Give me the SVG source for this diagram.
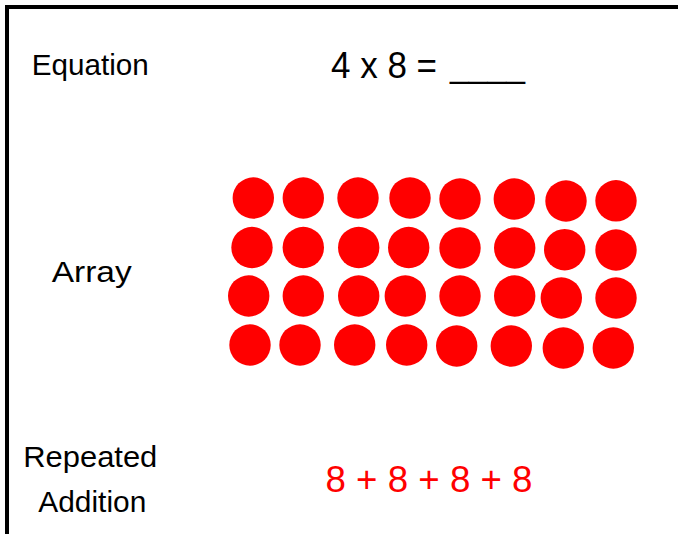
<svg xmlns="http://www.w3.org/2000/svg" width="678" height="534" viewBox="0 0 678 534">
<style>
.lbl{font-family:"Liberation Sans",Arial,sans-serif;font-size:30px;fill:#000}
.eq{font-family:"Liberation Sans",Arial,sans-serif;font-size:37px;fill:#000}
.add{font-family:"Liberation Sans",Arial,sans-serif;font-size:37px;fill:#ff0000}
.dot{fill:#ff0000}
</style>
<rect x="0" y="0" width="678" height="534" fill="#fff"/>
<g id="border">
<rect x="5" y="5" width="673" height="4" fill="#000"/>
<rect x="5" y="5" width="4" height="529" fill="#000"/>
</g>
<g id="labels">
<text class="lbl" x="31.7" y="75" textLength="117" lengthAdjust="spacingAndGlyphs">Equation</text>
<text class="lbl" x="51.7" y="281.7" textLength="80" lengthAdjust="spacingAndGlyphs">Array</text>
<text class="lbl" x="23.3" y="466.7" textLength="134" lengthAdjust="spacingAndGlyphs">Repeated</text>
<text class="lbl" x="38.3" y="511.7" textLength="108" lengthAdjust="spacingAndGlyphs">Addition</text>
</g>
<g id="equation">
<text class="eq" x="331" y="78.3" textLength="106" lengthAdjust="spacingAndGlyphs">4 x 8 =</text>
<text class="eq" x="450" y="76.5" textLength="75" lengthAdjust="spacingAndGlyphs">____</text>
</g>
<g id="array">
<circle class="dot" cx="253.3" cy="198" r="20.7"/>
<circle class="dot" cx="303.3" cy="198" r="20.7"/>
<circle class="dot" cx="358" cy="198" r="20.7"/>
<circle class="dot" cx="410" cy="198" r="20.7"/>
<circle class="dot" cx="460" cy="199" r="20.7"/>
<circle class="dot" cx="514.3" cy="199" r="20.7"/>
<circle class="dot" cx="566" cy="201" r="20.7"/>
<circle class="dot" cx="616" cy="200.8" r="20.7"/>
<circle class="dot" cx="252" cy="247.5" r="20.7"/>
<circle class="dot" cx="303.3" cy="247.5" r="20.7"/>
<circle class="dot" cx="358.7" cy="247.5" r="20.7"/>
<circle class="dot" cx="408.7" cy="247.5" r="20.7"/>
<circle class="dot" cx="460" cy="248" r="20.7"/>
<circle class="dot" cx="514.7" cy="248" r="20.7"/>
<circle class="dot" cx="564.7" cy="249.7" r="20.7"/>
<circle class="dot" cx="616" cy="250" r="20.7"/>
<circle class="dot" cx="248.7" cy="296" r="20.7"/>
<circle class="dot" cx="303.3" cy="296" r="20.7"/>
<circle class="dot" cx="358.7" cy="296" r="20.7"/>
<circle class="dot" cx="405.3" cy="296" r="20.7"/>
<circle class="dot" cx="460" cy="296" r="20.7"/>
<circle class="dot" cx="514.7" cy="296" r="20.7"/>
<circle class="dot" cx="561.3" cy="298" r="20.7"/>
<circle class="dot" cx="616" cy="298" r="20.7"/>
<circle class="dot" cx="250" cy="345" r="20.7"/>
<circle class="dot" cx="300" cy="345" r="20.7"/>
<circle class="dot" cx="354.7" cy="345" r="20.7"/>
<circle class="dot" cx="406.7" cy="345" r="20.7"/>
<circle class="dot" cx="456.7" cy="346" r="20.7"/>
<circle class="dot" cx="511.3" cy="346" r="20.7"/>
<circle class="dot" cx="563.3" cy="348" r="20.7"/>
<circle class="dot" cx="613.3" cy="348" r="20.7"/>
</g>
<g id="repeated-addition">
<text class="add" x="325.5" y="491.7" textLength="207" lengthAdjust="spacingAndGlyphs">8 + 8 + 8 + 8</text>
</g>
</svg>
